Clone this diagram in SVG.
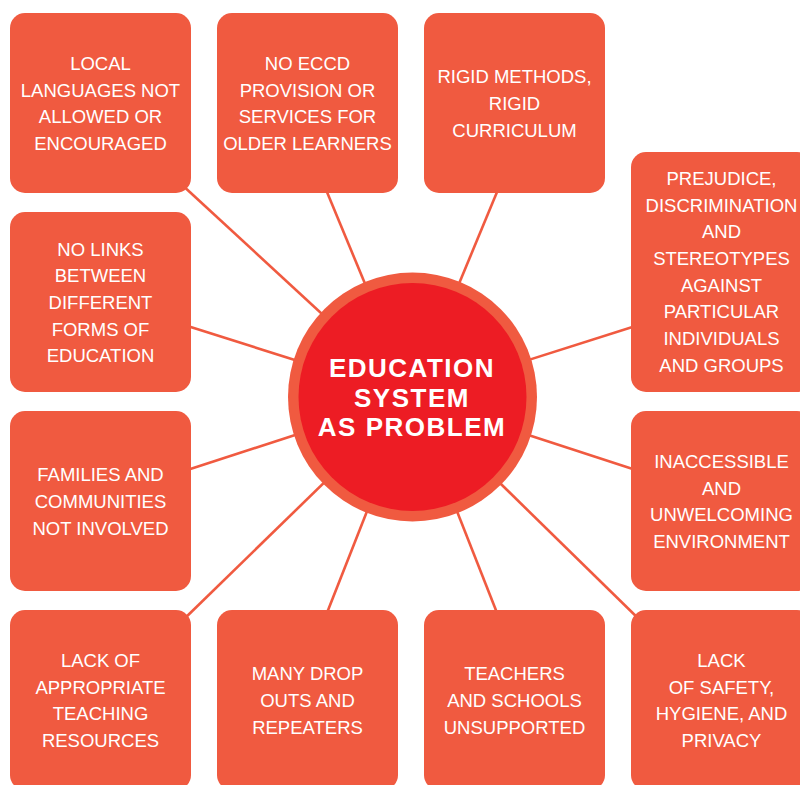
<svg xmlns="http://www.w3.org/2000/svg" width="800" height="785" viewBox="0 0 800 785">
<style>
.box{fill:#F05A40}
.t{font-family:"Liberation Sans",Arial,sans-serif;font-size:18.5px;fill:#FFFFFF;text-anchor:middle}
.c{font-family:"Liberation Sans",Arial,sans-serif;font-size:26px;font-weight:bold;fill:#FFFFFF;text-anchor:middle;letter-spacing:1.5px}
.ln{stroke:#F05A40;stroke-width:2.6;fill:none}
</style>
<rect width="800" height="785" fill="#FFFFFF"/>
<g id="connectors">
<line class="ln" x1="412" y1="397" x2="180" y2="183"/>
<line class="ln" x1="412" y1="397" x2="322" y2="180"/>
<line class="ln" x1="412" y1="397" x2="502" y2="180"/>
<line class="ln" x1="412" y1="397" x2="645" y2="323"/>
<line class="ln" x1="412" y1="397" x2="178" y2="323"/>
<line class="ln" x1="412" y1="397" x2="178" y2="473"/>
<line class="ln" x1="412" y1="397" x2="645" y2="473"/>
<line class="ln" x1="412" y1="397" x2="180" y2="623"/>
<line class="ln" x1="412" y1="397" x2="323" y2="623"/>
<line class="ln" x1="412" y1="397" x2="501" y2="623"/>
<line class="ln" x1="412" y1="397" x2="645" y2="625"/>
</g>
<g id="n1"><rect class="box" x="10" y="13" width="181" height="180" rx="15"/>
<text class="t" x="100.5" y="70">LOCAL</text><text class="t" x="100.5" y="96.7">LANGUAGES NOT</text><text class="t" x="100.5" y="123.4">ALLOWED OR</text><text class="t" x="100.5" y="150">ENCOURAGED</text></g>
<g id="n2"><rect class="box" x="217" y="13" width="181" height="180" rx="15"/>
<text class="t" x="307.5" y="70">NO ECCD</text><text class="t" x="307.5" y="96.7">PROVISION OR</text><text class="t" x="307.5" y="123.4">SERVICES FOR</text><text class="t" x="307.5" y="150">OLDER LEARNERS</text></g>
<g id="n3"><rect class="box" x="424" y="13" width="181" height="180" rx="15"/>
<text class="t" x="514.5" y="83">RIGID METHODS,</text><text class="t" x="514.5" y="110">RIGID</text><text class="t" x="514.5" y="137">CURRICULUM</text></g>
<g id="n4"><rect class="box" x="631" y="152" width="181" height="240" rx="15"/>
<text class="t" x="721.5" y="185">PREJUDICE,</text><text class="t" x="721.5" y="211.7">DISCRIMINATION</text><text class="t" x="721.5" y="238.4">AND</text><text class="t" x="721.5" y="265">STEREOTYPES</text><text class="t" x="721.5" y="291.7">AGAINST</text><text class="t" x="721.5" y="318.4">PARTICULAR</text><text class="t" x="721.5" y="345">INDIVIDUALS</text><text class="t" x="721.5" y="371.7">AND GROUPS</text></g>
<g id="n5"><rect class="box" x="10" y="212" width="181" height="180" rx="15"/>
<text class="t" x="100.5" y="255.5">NO LINKS</text><text class="t" x="100.5" y="282.2">BETWEEN</text><text class="t" x="100.5" y="308.9">DIFFERENT</text><text class="t" x="100.5" y="335.5">FORMS OF</text><text class="t" x="100.5" y="362.2">EDUCATION</text></g>
<g id="n6"><rect class="box" x="10" y="411" width="181" height="180" rx="15"/>
<text class="t" x="100.5" y="481">FAMILIES AND</text><text class="t" x="100.5" y="508">COMMUNITIES</text><text class="t" x="100.5" y="535">NOT INVOLVED</text></g>
<g id="n7"><rect class="box" x="631" y="411" width="181" height="180" rx="15"/>
<text class="t" x="721.5" y="468">INACCESSIBLE</text><text class="t" x="721.5" y="494.7">AND</text><text class="t" x="721.5" y="521.4">UNWELCOMING</text><text class="t" x="721.5" y="548">ENVIRONMENT</text></g>
<g id="n8"><rect class="box" x="10" y="610" width="181" height="180" rx="15"/>
<text class="t" x="100.5" y="667">LACK OF</text><text class="t" x="100.5" y="693.7">APPROPRIATE</text><text class="t" x="100.5" y="720.4">TEACHING</text><text class="t" x="100.5" y="747">RESOURCES</text></g>
<g id="n9"><rect class="box" x="217" y="610" width="181" height="180" rx="15"/>
<text class="t" x="307.5" y="680">MANY DROP</text><text class="t" x="307.5" y="707">OUTS AND</text><text class="t" x="307.5" y="734">REPEATERS</text></g>
<g id="n10"><rect class="box" x="424" y="610" width="181" height="180" rx="15"/>
<text class="t" x="514.5" y="680">TEACHERS</text><text class="t" x="514.5" y="707">AND SCHOOLS</text><text class="t" x="514.5" y="734">UNSUPPORTED</text></g>
<g id="n11"><rect class="box" x="631" y="610" width="181" height="180" rx="15"/>
<text class="t" x="721.5" y="667">LACK</text><text class="t" x="721.5" y="693.7">OF SAFETY,</text><text class="t" x="721.5" y="720.4">HYGIENE, AND</text><text class="t" x="721.5" y="747">PRIVACY</text></g>
<g id="center"><circle cx="412.5" cy="397" r="124.5" fill="#F05A40"/><circle cx="412.5" cy="397" r="114" fill="#ED1C24"/>
<text class="c" x="412" y="377">EDUCATION</text><text class="c" x="412" y="407">SYSTEM</text><text class="c" x="412" y="436">AS PROBLEM</text></g>
</svg>
